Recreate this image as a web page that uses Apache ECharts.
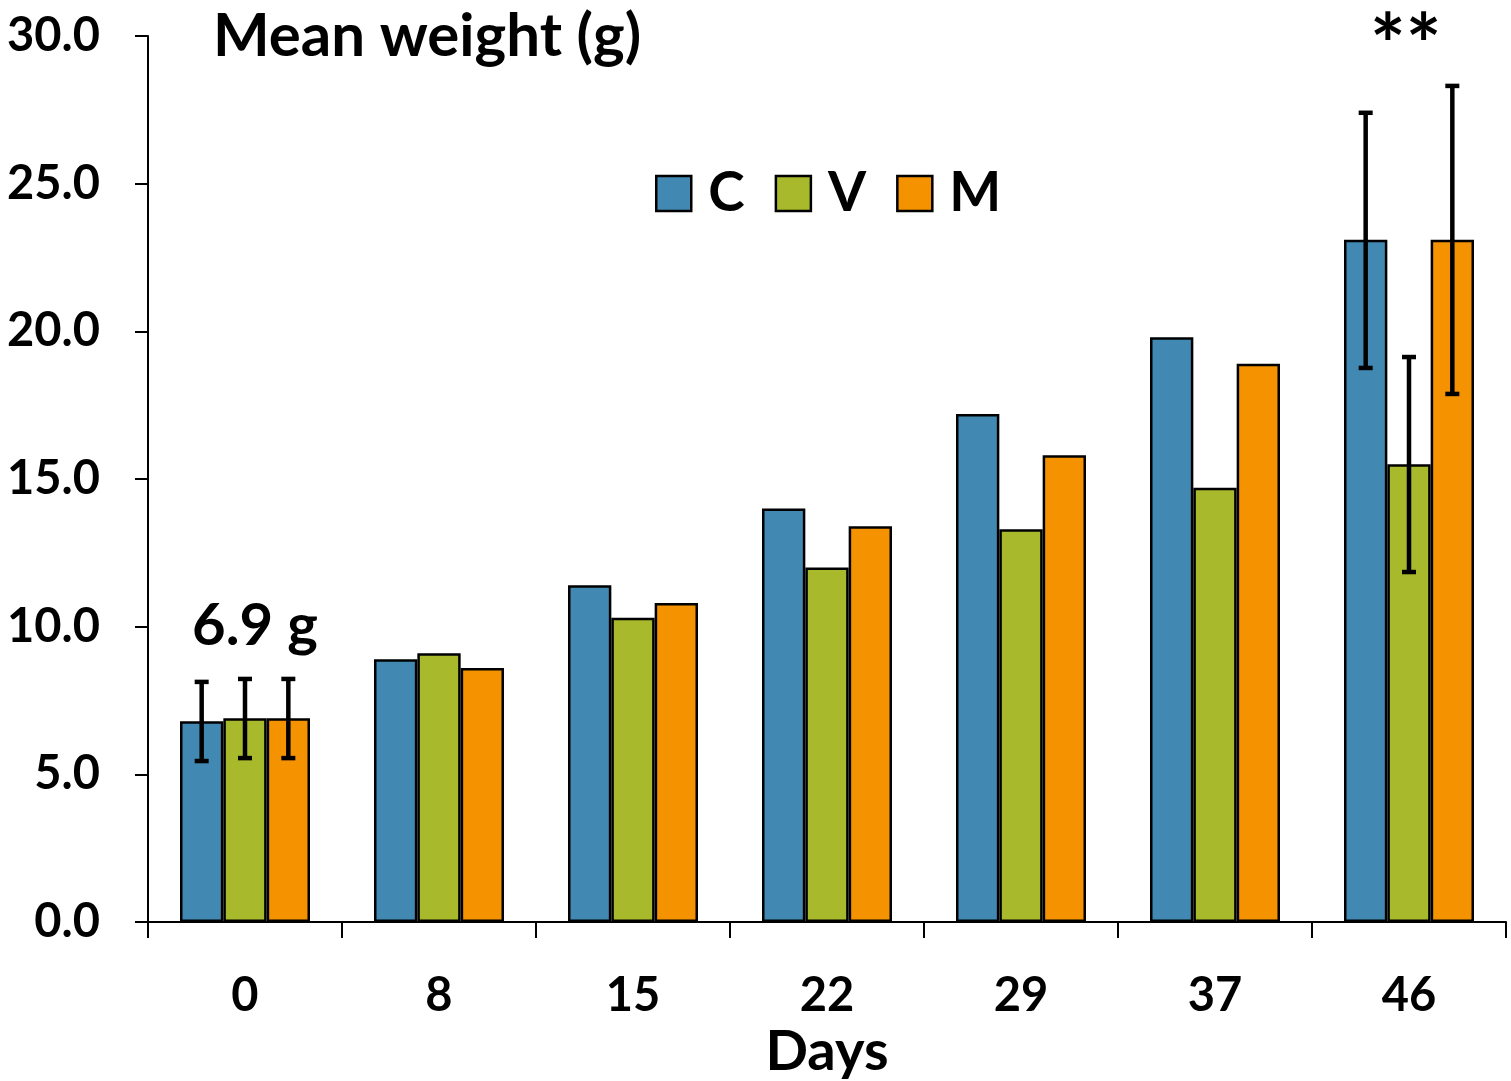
<!DOCTYPE html>
<html><head><meta charset="utf-8">
<script src="https://cdn.jsdelivr.net/npm/echarts@6/dist/echarts.min.js"></script>
<style>html,body{margin:0;padding:0;background:#fff}#c{width:1511px;height:1081px}</style>
</head><body><div id="c"></div>
<script>
var days = ['0','8','15','22','29','37','46'];
var seriesNames = ['C','V','M'];
var valC = [6.8, 8.9, 11.4, 14.0, 17.2, 19.8, 23.1];
var valV = [6.9, 9.1, 10.3, 12.0, 13.3, 14.7, 15.5];
var valM = [6.9, 8.6, 10.8, 13.4, 15.8, 18.9, 23.1];
// error bars [low, high]; null where none drawn
var errC = [[5.45, 8.13], null, null, null, null, null, [18.76, 27.4]];
var errV = [[5.55, 8.23], null, null, null, null, null, [11.85, 19.13]];
var errM = [[5.55, 8.23], null, null, null, null, null, [17.88, 28.31]];
var colors = ['#4189B3', '#A8B92B', '#F59200'];
var FONT = 'Lato';

var chart = echarts.init(document.getElementById('c'), null, {renderer:'canvas'});
var values = [valC, valV, valM];
var errs = [errC, errV, errM];
var CAT_GAP = 0.33;

function errSeries(idx) {
  var data = [];
  errs[idx].forEach(function(e, i){ if (e) data.push([i, e[0], e[1]]); });
  return {
    type: 'custom', name: seriesNames[idx] + ' err', z: 10, silent: true,
    data: data,
    encode: {x: 0, y: [1, 2]},
    renderItem: function(params, api) {
      var band = api.size([1, 0])[0];
      var bw = band * (1 - CAT_GAP) / 3;
      var off = (idx - 1) * bw;
      var lo = api.coord([api.value(0), api.value(1)]);
      var hi = api.coord([api.value(0), api.value(2)]);
      var x = lo[0] + off;
      var cap = 7;
      var st = {stroke: '#000', lineWidth: 4.5};
      return {type: 'group', children: [
        {type:'line', shape:{x1:x, y1:lo[1], x2:x, y2:hi[1]}, style:st},
        {type:'line', shape:{x1:x-cap, y1:lo[1], x2:x+cap, y2:lo[1]}, style:st},
        {type:'line', shape:{x1:x-cap, y1:hi[1], x2:x+cap, y2:hi[1]}, style:st}
      ]};
    }
  };
}

var series = [];
values.forEach(function(v, i){
  series.push({
    type: 'bar', name: seriesNames[i], data: v,
    barGap: '0%', barCategoryGap: (CAT_GAP*100) + '%',
    itemStyle: {color: colors[i], borderColor: '#000', borderWidth: 2.5}
  });
});
series.push(errSeries(0), errSeries(1), errSeries(2));

chart.setOption({
  animation: false,
  textStyle: {fontFamily: FONT, fontWeight: 'bold', color: '#000'},
  grid: {left: 148, width: 1358, top: 36, height: 886, containLabel: false, outerBoundsMode: 'none'},
  legend: {
    data: seriesNames, left: 655, top: 166, icon: 'rect', padding: 0,
    itemWidth: 35, itemHeight: 35, itemGap: 30,
    itemStyle: {borderColor: '#000', borderWidth: 2.5},
    textStyle: {fontFamily: FONT, fontWeight: 'bold', fontSize: 55, color: '#000', padding: [0,0,0,12]}
  },
  xAxis: {
    type: 'category', data: days,
    name: 'Days', nameLocation: 'middle', nameGap: 102,
    nameTextStyle: {fontFamily: FONT, fontWeight: 'bold', fontSize: 56, color: '#000'},
    axisLine: {lineStyle: {color: '#000', width: 2}},
    axisTick: {show: true, length: 16, lineStyle: {color: '#000', width: 2}},
    axisLabel: {fontFamily: FONT, fontWeight: 'bold', fontSize: 47, color: '#000', margin: 50}
  },
  yAxis: {
    type: 'value', min: 0, max: 30, interval: 5,
    axisLine: {show: true, lineStyle: {color: '#000', width: 2}},
    axisTick: {show: true, length: 13, lineStyle: {color: '#000', width: 2}},
    splitLine: {show: false},
    axisLabel: {fontFamily: FONT, fontWeight: 'bold', fontSize: 47, color: '#000', margin: 48,
      formatter: function(v){ return v.toFixed(1); }}
  },
  graphic: [
    {type:'text', left: 213, top: 7, style:{text:'Mean weight (g)', font:'bold 60px Lato', fill:'#000'}},
    {type:'text', left: 192, top: 597, style:{text:'6.9 g', font:'bold 58px Lato', fill:'#000'}},
    {type:'text', left: 1370, top: 6, style:{text:'**', font:'bold 84px Lato', fill:'#000'}}
  ],
  series: series
});
</script></body></html>
